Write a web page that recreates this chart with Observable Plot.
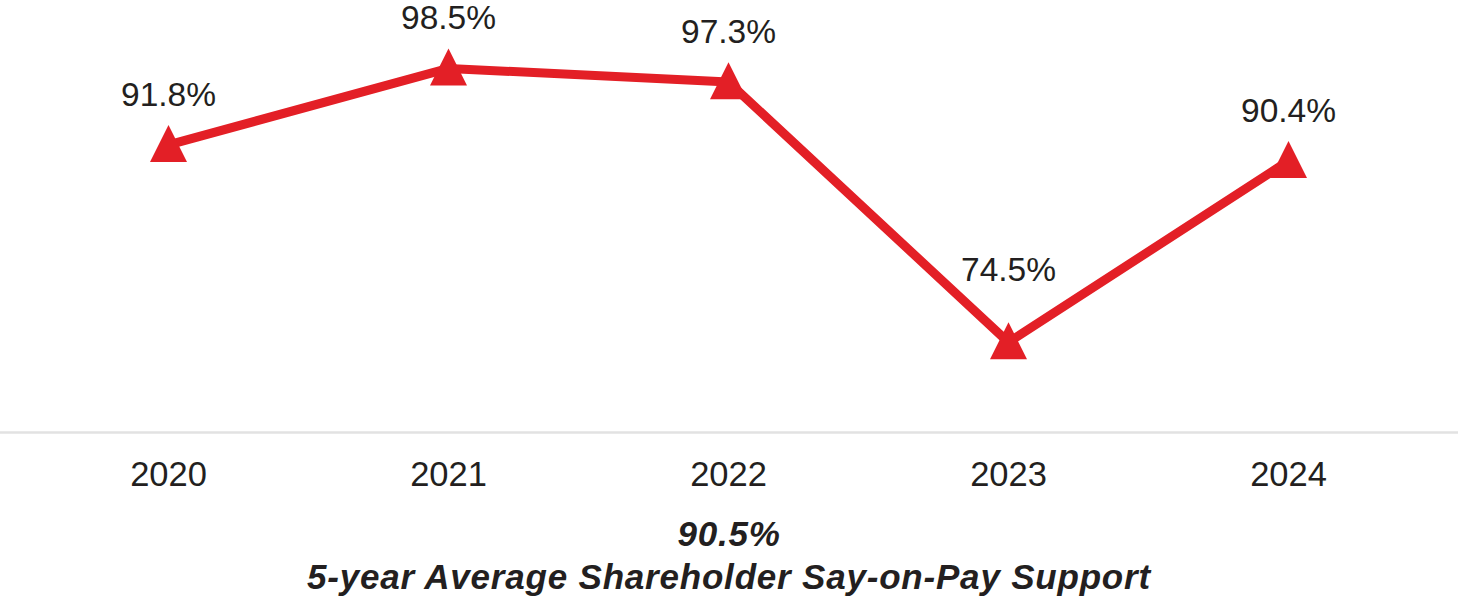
<!DOCTYPE html>
<html>
<head>
<meta charset="utf-8">
<script src="https://cdn.jsdelivr.net/npm/d3@7"></script>
<script src="https://cdn.jsdelivr.net/npm/@observablehq/plot@0.6"></script>
<style>
  html, body { margin: 0; padding: 0; background: #fff; }
  body { width: 1458px; font-family: "Liberation Sans", Arial, Helvetica, sans-serif; }
  #caption { margin-top: 12px; text-align: center; font-weight: bold; font-style: italic;
             font-size: 35px; line-height: 43px; letter-spacing: 0.8px; color: #231f20; }
</style>
</head>
<body>
<div id="chart"></div>
<div id="caption"><div>90.5%</div><div>5-year Average Shareholder Say-on-Pay Support</div></div>
<script>
const years = ["2020", "2021", "2022", "2023", "2024"];
const support = [91.8, 98.5, 97.3, 74.5, 90.4];
const labels = ["91.8%", "98.5%", "97.3%", "74.5%", "90.4%"];

const data = years.map((y, i) => ({year: y, value: support[i], label: labels[i]}));

const yLo = 66.6, yHi = 104.45;

const tri = {
  draw(context, size) {
    const r = Math.sqrt(size / Math.PI);
    context.moveTo(0, -r * 1.08);
    context.lineTo(r, r * 0.92);
    context.lineTo(-r, r * 0.92);
    context.closePath();
  }
};

const red = "#e31f26";
const low = "2023";

const chart = Plot.plot({
  width: 1458,
  height: 500,
  marginTop: 0,
  marginBottom: 68,
  marginLeft: 167,
  marginRight: 169,
  style: {fontFamily: "'Liberation Sans', Arial, Helvetica, sans-serif", background: "#fff"},
  x: {type: "point", domain: years, padding: 0, label: null},
  y: {domain: [yLo, yHi], axis: null},
  marks: [
    Plot.ruleY([yLo], {stroke: "#e2e2e2", strokeWidth: 2.5, insetLeft: -167, insetRight: -169}),
    Plot.line(data, {x: "year", y: "value", stroke: red, strokeWidth: 9, strokeLinejoin: "miter"}),
    Plot.dot(data, {x: "year", y: "value", symbol: tri, r: 18.5, fill: red, stroke: "none"}),
    Plot.text(data, {filter: d => d.year !== low, x: "year", y: "value", text: "label", dy: -50, fontSize: 33.5, fill: "#231f20"}),
    Plot.text(data, {filter: d => d.year === low, x: "year", y: "value", text: "label", dy: -72, fontSize: 33.5, fill: "#231f20"}),
    Plot.axisX({tickSize: 0, tickPadding: 29, fontSize: 34.5, fill: "#231f20", label: null})
  ]
});
document.getElementById("chart").append(chart);
</script>
</body>
</html>
